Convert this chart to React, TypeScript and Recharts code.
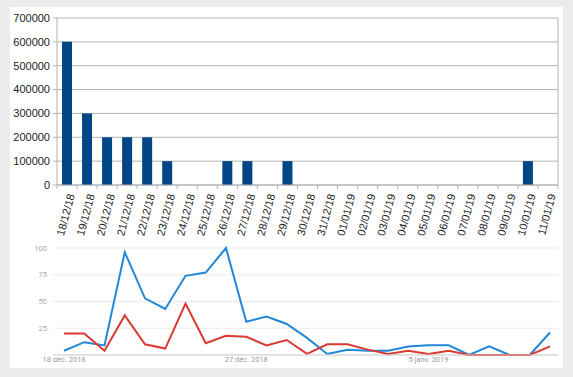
import { BarChart, Bar, LineChart, Line, XAxis, YAxis, CartesianGrid } from "recharts";

const days = [
  "18/12/18", "19/12/18", "20/12/18", "21/12/18", "22/12/18", "23/12/18", "24/12/18",
  "25/12/18", "26/12/18", "27/12/18", "28/12/18", "29/12/18", "30/12/18", "31/12/18",
  "01/01/19", "02/01/19", "03/01/19", "04/01/19", "05/01/19", "06/01/19", "07/01/19",
  "08/01/19", "09/01/19", "10/01/19", "11/01/19",
];
const counts = [
  600000, 300000, 200000, 200000, 200000, 100000, 0, 0, 100000, 100000, 0, 100000, 0, 0,
  0, 0, 0, 0, 0, 0, 0, 0, 0, 100000, 0,
];
const countTicks = [0, 100000, 200000, 300000, 400000, 500000, 600000, 700000];

const trendLabels = [
  "18 déc. 2018", "19 déc.", "20 déc.", "21 déc.", "22 déc.", "23 déc.", "24 déc.", "25 déc.",
  "26 déc.", "27 déc. 2018", "28 déc.", "29 déc.", "30 déc.", "31 déc.", "1 janv.", "2 janv.",
  "3 janv.", "4 janv.", "5 janv. 2019", "6 janv.", "7 janv.", "8 janv.", "9 janv.", "10 janv.",
  "11 janv.",
];
const blueSeries = [4, 12, 9, 96, 53, 43, 74, 77, 100, 31, 36, 29, 16, 1, 5, 4, 4, 8, 9, 9, 0, 8, 0, 0, 21];
const redSeries = [20, 20, 4, 37, 10, 6, 48, 11, 18, 17, 9, 14, 1, 10, 10, 5, 1, 4, 1, 4, 0, 0, 0, 0, 8];
const trendTicks = [0, 25, 50, 75, 100];
const trendXTicks = ["18 déc. 2018", "27 déc. 2018", "5 janv. 2019"];

const barData = days.map((d, i) => ({ day: d, value: counts[i] }));
const lineData = trendLabels.map((d, i) => ({ day: d, blue: blueSeries[i], red: redSeries[i] }));

const HALF_BAND = (558 - 57) / days.length / 2;

function DayTick(props: any) {
  const { x, y, payload, index, visibleTicksCount } = props;
  const top = y - 6;
  return (
    <g>
      <line x1={x - HALF_BAND} x2={x - HALF_BAND} y1={top} y2={top + 4} stroke="#b3b3b3" />
      {index === visibleTicksCount - 1 && (
        <line x1={x + HALF_BAND} x2={x + HALF_BAND} y1={top} y2={top + 4} stroke="#b3b3b3" />
      )}
      <text
        x={x + 4}
        y={y + 3}
        textAnchor="end"
        dominantBaseline="central"
        transform={`rotate(-75 ${x + 4} ${y + 3})`}
        fontSize={11}
        fill="#222"
        fontFamily="Liberation Sans, Arial, sans-serif"
      >
        {payload.value}
      </text>
    </g>
  );
}

export default function App() {
  return (
    <div style={{ position: "absolute", left: 0, top: 0, width: 573, height: 377, background: "#ececec" }}>
      <div style={{ position: "absolute", left: 10, top: 7, width: 553, height: 361, background: "#fff" }} />
      <div style={{ position: "absolute", left: 0, top: 0 }}>
        <BarChart width={573} height={240} data={barData} margin={{ top: 18, right: 15, left: 0, bottom: 0 }}>
          <CartesianGrid stroke="#b3b3b3" vertical={true} verticalPoints={[558]} />
          <XAxis
            dataKey="day"
            interval={0}
            height={55}
            tickSize={4}
            tickMargin={2}
            tickLine={false}
            axisLine={{ stroke: "#b3b3b3" }}
            tick={<DayTick />}
          />
          <YAxis
            width={57}
            domain={[0, 700000]}
            ticks={countTicks}
            interval={0}
            tickSize={4}
            tickMargin={3}
            tickLine={{ stroke: "#b3b3b3" }}
            axisLine={{ stroke: "#b3b3b3" }}
            tick={{ fontSize: 11, fill: "#222", fontFamily: "Liberation Sans, Arial, sans-serif" }}
          />
          <Bar dataKey="value" fill="#004586" barSize={10} isAnimationActive={false} />
        </BarChart>
      </div>
      <div style={{ position: "absolute", left: 0, top: 236 }}>
        <LineChart width={573} height={130} data={lineData} margin={{ top: 12, right: 15, left: 0, bottom: 0 }}>
          <CartesianGrid stroke="#ebebeb" vertical={false} />
          <XAxis
            dataKey="day"
            ticks={trendXTicks}
            interval={0}
            height={11}
            padding={{ left: 11, right: 8 }}
            tickSize={0}
            tickMargin={2}
            tickLine={false}
            axisLine={{ stroke: "#cfcfcf" }}
            tick={{ fontSize: 7.5, fill: "#9a9a9a", fontFamily: "Roboto, sans-serif" }}
          />
          <YAxis
            width={53}
            domain={[0, 100]}
            ticks={trendTicks}
            interval={0}
            tickLine={false}
            axisLine={false}
            tickSize={0}
            tickMargin={6}
            tickFormatter={(v: number) => (v === 0 ? "" : String(v))}
            tick={{ fontSize: 7.5, fill: "#aaa", fontFamily: "Roboto, sans-serif" }}
          />
          <Line dataKey="blue" stroke="#2187d8" strokeWidth={2} dot={false} isAnimationActive={false} />
          <Line dataKey="red" stroke="#d93a32" strokeWidth={2} dot={false} isAnimationActive={false} />
        </LineChart>
      </div>
    </div>
  );
}
